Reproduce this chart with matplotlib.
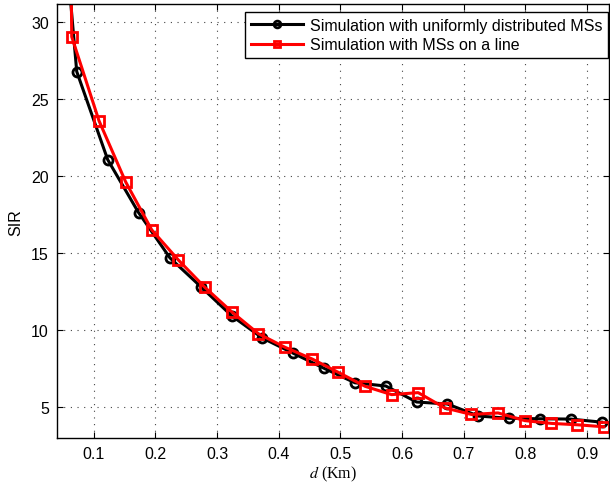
import matplotlib
matplotlib.use("Agg")
import matplotlib.pyplot as plt

# Data
d_uniform = [0.022, 0.0723, 0.1225, 0.1725, 0.2235, 0.2735, 0.3235, 0.3735, 0.4235,
             0.4735, 0.5235, 0.5735, 0.6235, 0.6735, 0.7235, 0.7735, 0.8235,
             0.8735, 0.9235]
sir_uniform = [50.0, 26.8, 21.07, 17.63, 14.68, 12.81, 10.92, 9.47, 8.48,
               7.5, 6.56, 6.35, 5.31, 5.18, 4.4, 4.25, 4.22, 4.2, 4.0]

d_line = [0.021, 0.0642, 0.1084, 0.1517, 0.194, 0.237, 0.280, 0.3235, 0.367, 0.41,
          0.454, 0.496, 0.54, 0.583, 0.626, 0.669, 0.7125, 0.7556,
          0.799, 0.842, 0.884, 0.927]
sir_line = [200.0, 29.06, 23.6, 19.62, 16.5, 14.55, 12.77, 11.18, 9.75, 8.87,
            8.11, 7.25, 6.33, 5.79, 5.92, 4.93, 4.5, 4.6,
            4.1, 3.92, 3.83, 3.70]

xticks = [0.1, 0.2, 0.3, 0.4, 0.5, 0.6, 0.7, 0.8, 0.9]
yticks = [5, 10, 15, 20, 25, 30]

plt.rcParams['font.family'] = ['Liberation Sans', 'DejaVu Sans']
plt.rcParams['mathtext.fontset'] = 'stix'

fig = plt.figure(figsize=(6.1, 4.85), dpi=100)
ax = fig.add_axes([57.3 / 610, (485 - 439) / 485, (609 - 57.3) / 610, (439 - 5.3) / 485])

ax.plot(d_uniform, sir_uniform, color='black', lw=2.2, marker='o', ms=6.5,
        mfc='none', mew=2, label='Simulation with uniformly distributed MSs')
ax.plot(d_line, sir_line, color='red', lw=2.2, marker='s', ms=6.5,
        mfc='none', mew=2, label='Simulation with MSs on a line')

ax.set_xlim(0.0408, 0.9355)
ax.set_ylim(2.97, 31.17)
ax.set_xticks(xticks)
ax.set_xticklabels([f"{t:g}" for t in xticks])
ax.set_yticks(yticks)
ax.tick_params(direction='in', top=True, right=True, length=4, labelsize=11.5,
               width=0.8, pad=6)
ax.grid(True, linestyle=(0, (1, 5)), color='#444444', linewidth=0.8)
for s in ax.spines.values():
    s.set_linewidth(1.0)

ax.set_xlabel(r'$d$ (Km)', fontsize=11.5, family='Liberation Serif', labelpad=2)
ax.set_ylabel('SIR', fontsize=11.5, labelpad=6)

leg = ax.legend(loc='upper right', bbox_to_anchor=(0.998, 0.982),
                fontsize=11.5, fancybox=False, framealpha=1,
                edgecolor='black', borderpad=0.35, handlelength=3.3,
                labelspacing=0.3, borderaxespad=0.0, handletextpad=0.4,
                markerscale=0.75)
leg.get_frame().set_linewidth(1.0)

fig.savefig('out.png', dpi=100)
